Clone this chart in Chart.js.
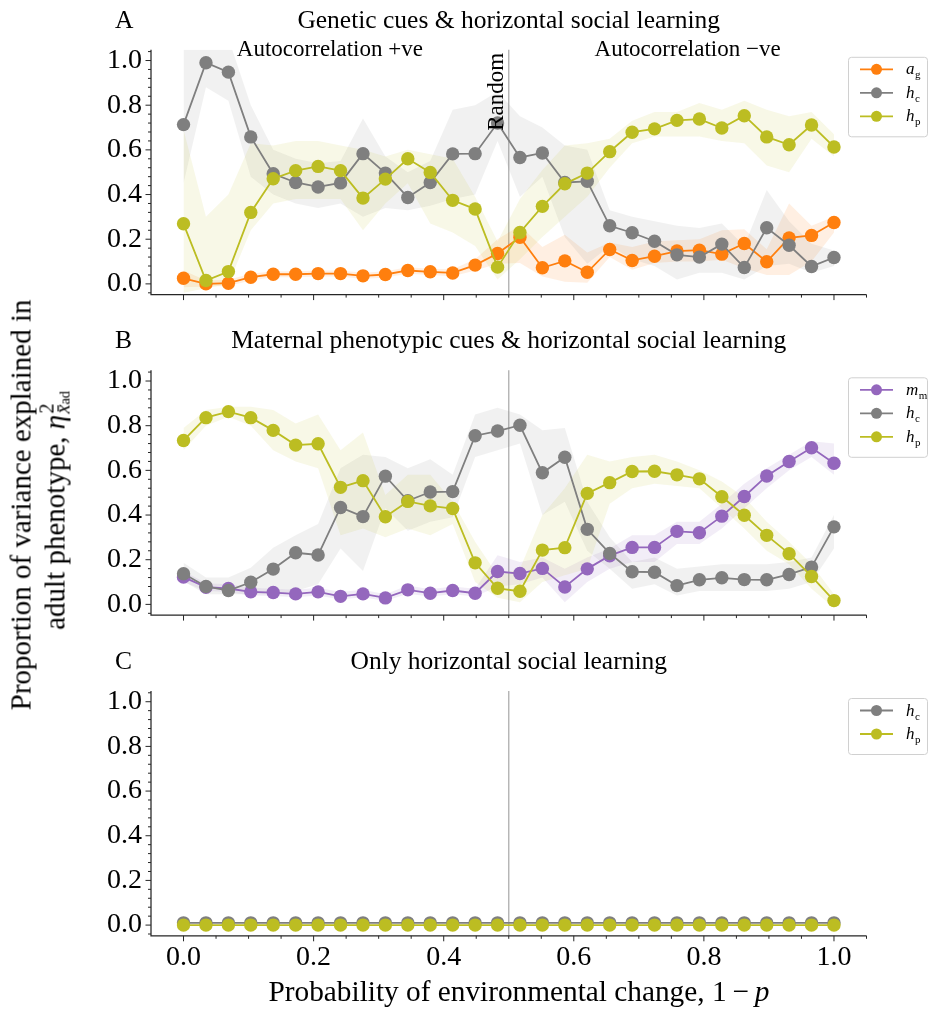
<!DOCTYPE html>
<html>
<head>
<meta charset="utf-8">
<script src="https://cdn.jsdelivr.net/npm/chart.js@4.4.1/dist/chart.umd.min.js"></script>
<style>
  html, body { margin: 0; padding: 0; background: #fff; }
  #fig { position: relative; width: 928px; height: 1011px; overflow: hidden; background: #fff;
         font-family: "Liberation Serif", "Times New Roman", serif; color: #000; }
  #fig canvas { position: absolute; left: 0; }
  #ylab { position: absolute; left: 38px; top: 505px; transform: translate(-50%, -50%) rotate(-90deg);
          white-space: nowrap; text-align: center; font-size: 29px; line-height: 29px; }
  #xlab { position: absolute; left: 0; width: 1038px; top: 975px; text-align: center;
          white-space: nowrap; font-size: 29.3px; line-height: 32px; }
  .stack { position: relative; display: inline-block; width: 1.2em; height: 1em; }
  .stack .sup { position: absolute; left: 0.06em; bottom: 0.38em; font-size: 0.7em; line-height: 1; }
  .stack .sub { position: absolute; left: 0.06em; bottom: -0.42em; font-size: 0.7em; line-height: 1; }
  .stack .sub small { font-size: 0.72em; }
</style>
</head>
<body>
<div id="fig">
  <canvas id="panelA" width="928" height="321" style="top:0px"></canvas>
  <canvas id="panelB" width="928" height="320" style="top:321px"></canvas>
  <canvas id="panelC" width="928" height="370" style="top:641px"></canvas>
  <div id="ylab">Proportion of variance explained in<br>adult phenotype, <i>η</i><span class="stack"><span class="sup">2</span><span class="sub"><i>x̄</i><small>ad</small></span></span></div>
  <div id="xlab">Probability of environmental change, 1&thinsp;−&thinsp;<i>p</i></div>
</div>
<script>
// Probability of environmental change (1 - p), shared by all panels
const xValues = [0.0, 0.0345, 0.069, 0.1034, 0.1379, 0.1724, 0.2069, 0.2414, 0.2759, 0.3103,
                 0.3448, 0.3793, 0.4138, 0.4483, 0.4828, 0.5172, 0.5517, 0.5862, 0.6207, 0.6552,
                 0.6897, 0.7241, 0.7586, 0.7931, 0.8276, 0.8621, 0.8966, 0.931, 0.9655, 1.0];

// Axis ticks
const xMajorTicks = [0.0, 0.2, 0.4, 0.6, 0.8, 1.0];
const xMinorTicks = [0.05, 0.1, 0.15, 0.25, 0.3, 0.35, 0.45, 0.5, 0.55, 0.65, 0.7, 0.75, 0.85, 0.9, 0.95, 1.05];
const yMajorTicks = [0.0, 0.2, 0.4, 0.6, 0.8, 1.0];
const yMinorTicks = [-0.04, 0.04, 0.08, 0.12, 0.16, 0.24, 0.28, 0.32, 0.36, 0.44, 0.48, 0.52, 0.56,
                     0.64, 0.68, 0.72, 0.76, 0.84, 0.88, 0.92, 0.96, 1.04];
const randomX = 0.5;

// Panel A: genetic cues & horizontal social learning
const agA     = [0.025, 0.0, 0.003, 0.03, 0.043, 0.043, 0.046, 0.046, 0.036, 0.042, 0.06, 0.054, 0.049, 0.084, 0.136,
                 0.209, 0.072, 0.103, 0.052, 0.154, 0.105, 0.124, 0.147, 0.151, 0.133, 0.181, 0.099, 0.206, 0.217, 0.275];
const agLowA  = [-0.015, -0.012, -0.01, 0.015, 0.03, 0.03, 0.033, 0.033, 0.022, 0.028, 0.045, 0.04, 0.034, 0.06, 0.09,
                 0.093, 0.033, 0.01, 0.005, 0.12, 0.063, 0.093, 0.1, 0.1, 0.108, 0.07, 0.04, 0.04, 0.1, 0.23];
const agHighA = [0.06, 0.015, 0.018, 0.045, 0.056, 0.056, 0.06, 0.06, 0.05, 0.056, 0.075, 0.068, 0.065, 0.11, 0.2,
                 0.26, 0.165, 0.22, 0.14, 0.185, 0.165, 0.19, 0.195, 0.2, 0.24, 0.245, 0.155, 0.36, 0.26, 0.3];
const hcA     = [0.713, 0.99, 0.948, 0.658, 0.493, 0.454, 0.434, 0.452, 0.583, 0.496, 0.387, 0.454, 0.582, 0.583, 0.72,
                 0.566, 0.586, 0.454, 0.459, 0.26, 0.229, 0.191, 0.13, 0.12, 0.178, 0.073, 0.251, 0.173, 0.078, 0.118];
const hcLowA  = [0.45, 0.88, 0.82, 0.48, 0.4, 0.36, 0.34, 0.36, 0.3, 0.34, 0.33, 0.35, 0.38, 0.4, 0.64,
                 0.39, 0.48, 0.21, 0.09, 0.17, 0.11, 0.08, 0.02, 0.05, 0.05, 0.02, 0.08, 0.09, 0.05, 0.08];
const hcHighA = [1.1, 1.1, 1.1, 0.8, 0.6, 0.56, 0.54, 0.55, 0.74, 0.57, 0.5, 0.55, 0.78, 0.8, 0.86,
                 0.75, 0.7, 0.62, 0.6, 0.33, 0.3, 0.28, 0.26, 0.25, 0.27, 0.17, 0.42, 0.28, 0.18, 0.15];
const hpA     = [0.269, 0.015, 0.055, 0.32, 0.471, 0.507, 0.526, 0.507, 0.384, 0.469, 0.56, 0.499, 0.374, 0.335, 0.075,
                 0.23, 0.347, 0.448, 0.496, 0.592, 0.679, 0.694, 0.732, 0.738, 0.698, 0.753, 0.658, 0.623, 0.711, 0.613];
const hpLowA  = [-0.04, -0.02, 0.0, 0.24, 0.36, 0.38, 0.38, 0.38, 0.24, 0.36, 0.45, 0.27, 0.23, 0.17, 0.02,
                 0.11, 0.21, 0.3, 0.39, 0.52, 0.63, 0.66, 0.66, 0.66, 0.64, 0.63, 0.53, 0.5, 0.65, 0.57];
const hpHighA = [0.69, 0.3, 0.4, 0.63, 0.62, 0.64, 0.64, 0.62, 0.6, 0.57, 0.6, 0.58, 0.56, 0.39, 0.19,
                 0.38, 0.51, 0.62, 0.63, 0.65, 0.73, 0.77, 0.77, 0.81, 0.78, 0.82, 0.78, 0.75, 0.77, 0.67];

// Panel B: maternal phenotypic cues & horizontal social learning
const mmB     = [0.122, 0.077, 0.071, 0.056, 0.053, 0.047, 0.056, 0.036, 0.047, 0.029, 0.065, 0.05, 0.062, 0.05, 0.147,
                 0.138, 0.161, 0.078, 0.159, 0.218, 0.255, 0.255, 0.327, 0.321, 0.395, 0.483, 0.575, 0.64, 0.701, 0.632];
const mmLowB  = [0.1, 0.06, 0.055, 0.04, 0.038, 0.032, 0.04, 0.022, 0.032, 0.015, 0.048, 0.035, 0.045, 0.035, 0.08,
                 0.09, 0.12, 0.01, 0.1, 0.16, 0.19, 0.19, 0.27, 0.27, 0.34, 0.43, 0.52, 0.6, 0.66, 0.58];
const mmHighB = [0.15, 0.095, 0.09, 0.075, 0.07, 0.065, 0.075, 0.055, 0.065, 0.045, 0.085, 0.068, 0.08, 0.07, 0.22,
                 0.19, 0.21, 0.16, 0.21, 0.25, 0.31, 0.31, 0.37, 0.37, 0.45, 0.54, 0.61, 0.67, 0.73, 0.72];
const hcB     = [0.137, 0.08, 0.062, 0.099, 0.158, 0.231, 0.221, 0.434, 0.393, 0.574, 0.464, 0.503, 0.505, 0.755, 0.776,
                 0.802, 0.589, 0.659, 0.336, 0.228, 0.146, 0.144, 0.084, 0.11, 0.119, 0.111, 0.11, 0.134, 0.167, 0.347];
const hcLowB  = [0.104, 0.045, 0.045, 0.045, 0.045, 0.06, 0.09, 0.25, 0.15, 0.43, 0.33, 0.37, 0.39, 0.66, 0.69,
                 0.72, 0.4, 0.46, 0.24, 0.16, 0.07, 0.09, 0.04, 0.06, 0.06, 0.06, 0.06, 0.07, 0.1, 0.25];
const hcHighB = [0.186, 0.12, 0.12, 0.164, 0.254, 0.31, 0.36, 0.61, 0.67, 0.66, 0.61, 0.65, 0.58, 0.85, 0.88,
                 0.85, 0.78, 0.79, 0.46, 0.3, 0.19, 0.21, 0.16, 0.17, 0.18, 0.18, 0.18, 0.19, 0.21, 0.4];
const hpB     = [0.734, 0.836, 0.863, 0.836, 0.779, 0.713, 0.719, 0.524, 0.554, 0.392, 0.461, 0.441, 0.429, 0.186, 0.072,
                 0.059, 0.243, 0.254, 0.497, 0.545, 0.595, 0.596, 0.58, 0.562, 0.482, 0.399, 0.309, 0.227, 0.125, 0.017];
const hpLowB  = [0.69, 0.8, 0.84, 0.8, 0.69, 0.64, 0.61, 0.31, 0.34, 0.3, 0.34, 0.31, 0.36, 0.1, 0.03,
                 0.01, 0.1, 0.13, 0.16, 0.45, 0.52, 0.54, 0.53, 0.52, 0.43, 0.34, 0.24, 0.18, 0.07, -0.015];
const hpHighB = [0.79, 0.87, 0.885, 0.885, 0.87, 0.81, 0.85, 0.69, 0.77, 0.49, 0.58, 0.58, 0.46, 0.28, 0.13,
                 0.16, 0.4, 0.52, 0.67, 0.64, 0.66, 0.67, 0.64, 0.6, 0.55, 0.48, 0.37, 0.28, 0.18, 0.045];

// Panel C: only horizontal social learning
const hcC = [0.01, 0.01, 0.01, 0.01, 0.01, 0.01, 0.01, 0.01, 0.01, 0.01, 0.01, 0.01, 0.01, 0.01, 0.01,
             0.01, 0.01, 0.01, 0.01, 0.01, 0.01, 0.01, 0.01, 0.01, 0.01, 0.01, 0.01, 0.01, 0.01, 0.01];
const hpC = [0, 0, 0, 0, 0, 0, 0, 0, 0, 0, 0, 0, 0, 0, 0,
             0, 0, 0, 0, 0, 0, 0, 0, 0, 0, 0, 0, 0, 0, 0];

const COLORS = { orange: '#ff7f0e', gray: '#7f7f7f', olive: '#bcbd22', purple: '#9467bd' };
const BANDS  = { orange: 'rgba(255,127,14,0.12)', gray: 'rgba(127,127,127,0.11)',
                 olive: 'rgba(188,189,34,0.11)', purple: 'rgba(148,103,189,0.12)' };
const SERIF = '"Liberation Serif", "Times New Roman", serif';
const INK = '#262626';

const pts = arr => xValues.map((x, i) => ({ x, y: arr[i] }));

// Ticks, spines, panel texts and legend drawn over each panel
const panelDecor = {
  id: 'panelDecor',
  beforeDatasetsDraw(chart) {
    const { ctx, chartArea: ca, scales } = chart;
    const xp = scales.x.getPixelForValue(randomX);
    ctx.save();
    ctx.strokeStyle = '#b3b3b3';
    ctx.lineWidth = 1.4;
    ctx.beginPath();
    ctx.moveTo(xp, ca.top);
    ctx.lineTo(xp, ca.bottom);
    ctx.stroke();
    ctx.restore();
  },
  afterDraw(chart, args, opts) {
    const { ctx, chartArea: ca, scales } = chart;
    const sx = scales.x, sy = scales.y;
    ctx.save();
    // spines
    ctx.strokeStyle = INK;
    ctx.lineWidth = 1.25;
    ctx.beginPath();
    ctx.moveTo(ca.left, ca.top);
    ctx.lineTo(ca.left, ca.bottom);
    ctx.lineTo(ca.right, ca.bottom);
    ctx.stroke();
    // ticks (outward)
    ctx.lineWidth = 1;
    ctx.beginPath();
    xMajorTicks.forEach(v => { const p = sx.getPixelForValue(v); ctx.moveTo(p, ca.bottom); ctx.lineTo(p, ca.bottom + 5.5); });
    xMinorTicks.forEach(v => { const p = sx.getPixelForValue(v); ctx.moveTo(p, ca.bottom); ctx.lineTo(p, ca.bottom + 3); });
    yMajorTicks.forEach(v => { const p = sy.getPixelForValue(v); ctx.moveTo(ca.left, p); ctx.lineTo(ca.left - 5.5, p); });
    yMinorTicks.forEach(v => { const p = sy.getPixelForValue(v); ctx.moveTo(ca.left, p); ctx.lineTo(ca.left - 3, p); });
    ctx.stroke();

    // panel letter and title
    ctx.fillStyle = '#000';
    ctx.textBaseline = 'alphabetic';
    ctx.font = '25.5px ' + SERIF;
    ctx.textAlign = 'left';
    ctx.fillText(opts.letter, 115, ca.top - 22);
    ctx.textAlign = 'center';
    ctx.fillText(opts.title, (ca.left + ca.right) / 2, ca.top - 22);

    // regime annotations
    if (opts.regimes) {
      const w = ca.right - ca.left;
      ctx.font = '23px ' + SERIF;
      ctx.textAlign = 'center';
      ctx.fillText('Autocorrelation +ve', ca.left + 0.25 * w, ca.top + 6);
      ctx.fillText('Autocorrelation \u2212ve', ca.left + 0.75 * w, ca.top + 6);
      const xp = sx.getPixelForValue(randomX);
      ctx.save();
      ctx.translate(xp - 6, ca.top + 3);
      ctx.rotate(-Math.PI / 2);
      ctx.textAlign = 'right';
      ctx.fillText('Random', 0, 0);
      ctx.restore();
    }

    // legend
    const items = opts.legend;
    const bx = 848, by = ca.top + 7, bw = 79, bh = 23.5 * items.length + 9;
    ctx.beginPath();
    ctx.roundRect(bx + 0.5, by + 0.5, bw, bh, 3);
    ctx.fillStyle = 'rgba(255,255,255,0.85)';
    ctx.fill();
    ctx.strokeStyle = '#d0d0d0';
    ctx.lineWidth = 1;
    ctx.stroke();
    items.forEach((it, i) => {
      const ry = ca.top + 19.5 + 23.5 * i;
      ctx.strokeStyle = it.color;
      ctx.lineWidth = 1.8;
      ctx.beginPath();
      ctx.moveTo(bx + 12, ry);
      ctx.lineTo(bx + 45, ry);
      ctx.stroke();
      ctx.fillStyle = it.color;
      ctx.beginPath();
      ctx.arc(bx + 28.5, ry, 5.5, 0, Math.PI * 2);
      ctx.fill();
      ctx.fillStyle = '#000';
      ctx.textAlign = 'left';
      ctx.font = 'italic 17px ' + SERIF;
      ctx.fillText(it.sym, bx + 58, ry + 5);
      const wSym = ctx.measureText(it.sym).width;
      ctx.font = '11px ' + SERIF;
      ctx.fillText(it.sub, bx + 58 + wSym + 0.5, ry + 9);
    });
    ctx.restore();
  }
};

const AXES_H = 244.8;

function makePanel(id, axesTop, showXLabels, series, decor) {
  const canvas = document.getElementById(id);
  const canvasTop = parseFloat(canvas.style.top);
  const padTop = axesTop - canvasTop;
  const xAxisH = canvas.height - padTop - AXES_H;
  const datasets = [];
  const n = series.length;
  // confidence bands go behind every line
  series.forEach((s, k) => {
    if (!s.low) return;
    const lowIndex = datasets.length;
    datasets.push({ data: pts(s.low), borderWidth: 0, pointRadius: 0, fill: false, order: 20 + n - k });
    datasets.push({ data: pts(s.high), borderWidth: 0, pointRadius: 0, backgroundColor: BANDS[s.color],
                    fill: { target: lowIndex }, order: 20 + n - k });
  });
  // later series are drawn above earlier ones
  series.forEach((s, k) => {
    datasets.push({ data: pts(s.values), borderColor: COLORS[s.color], backgroundColor: COLORS[s.color],
                    borderWidth: 1.8, pointRadius: 6.7, pointBorderWidth: 0, pointHoverRadius: 6.7,
                    fill: false, order: n - k });
  });
  return new Chart(canvas, {
    type: 'line',
    data: { datasets },
    options: {
      responsive: false, animation: false, devicePixelRatio: 1,
      layout: { padding: { top: padTop, left: 0, right: 928 - 866.5, bottom: 0 } },
      elements: { line: { tension: 0 } },
      plugins: { legend: { display: false }, tooltip: { enabled: false }, panelDecor: decor },
      events: [],
      scales: {
        x: {
          type: 'linear', min: -0.05, max: 1.05,
          grid: { display: false, drawTicks: false }, border: { display: false },
          afterBuildTicks: s => { s.ticks = xMajorTicks.map(v => ({ value: v })); },
          afterFit: s => { s.height = xAxisH; },
          ticks: { display: showXLabels, autoSkip: false, maxRotation: 0, padding: 5, color: '#000',
                   font: { family: SERIF, size: 28 }, callback: v => v.toFixed(1) }
        },
        y: {
          type: 'linear', min: -0.048, max: 1.048,
          grid: { display: false, drawTicks: false }, border: { display: false },
          afterBuildTicks: s => { s.ticks = yMajorTicks.map(v => ({ value: v })); },
          afterFit: s => { s.width = 151; },
          ticks: { autoSkip: false, padding: 9, color: '#000',
                   font: { family: SERIF, size: 28 }, callback: v => v.toFixed(1) }
        }
      }
    },
    plugins: [panelDecor]
  });
}

makePanel('panelA', 49.8, false, [
  { values: agA, low: agLowA, high: agHighA, color: 'orange' },
  { values: hcA, low: hcLowA, high: hcHighA, color: 'gray' },
  { values: hpA, low: hpLowA, high: hpHighA, color: 'olive' }
], {
  letter: 'A', title: 'Genetic cues & horizontal social learning', regimes: true,
  legend: [{ sym: 'a', sub: 'g', color: COLORS.orange }, { sym: 'h', sub: 'c', color: COLORS.gray },
           { sym: 'h', sub: 'p', color: COLORS.olive }]
});

makePanel('panelB', 370.3, false, [
  { values: mmB, low: mmLowB, high: mmHighB, color: 'purple' },
  { values: hcB, low: hcLowB, high: hcHighB, color: 'gray' },
  { values: hpB, low: hpLowB, high: hpHighB, color: 'olive' }
], {
  letter: 'B', title: 'Maternal phenotypic cues & horizontal social learning', regimes: false,
  legend: [{ sym: 'm', sub: 'm', color: COLORS.purple }, { sym: 'h', sub: 'c', color: COLORS.gray },
           { sym: 'h', sub: 'p', color: COLORS.olive }]
});

makePanel('panelC', 691.0, true, [
  { values: hcC, color: 'gray' },
  { values: hpC, color: 'olive' }
], {
  letter: 'C', title: 'Only horizontal social learning', regimes: false,
  legend: [{ sym: 'h', sub: 'c', color: COLORS.gray }, { sym: 'h', sub: 'p', color: COLORS.olive }]
});
</script>
</body>
</html>
